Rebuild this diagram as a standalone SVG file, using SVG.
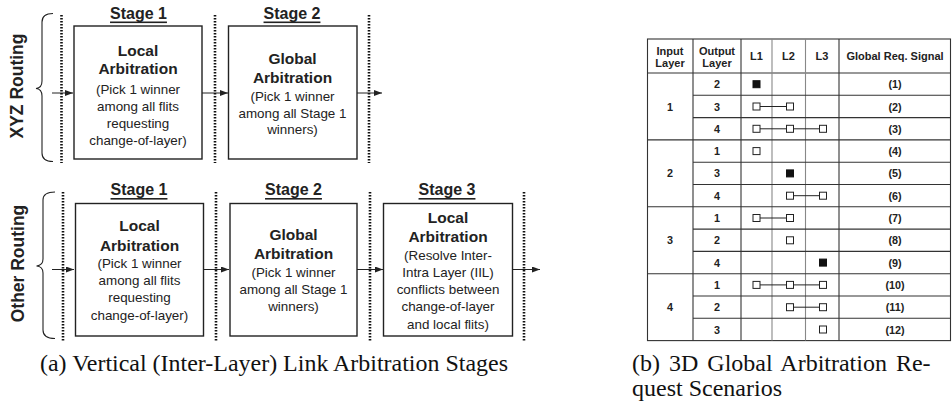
<svg xmlns="http://www.w3.org/2000/svg" width="952" height="406" viewBox="0 0 952 406">
<style>
.box{fill:#fff;stroke:#222;stroke-width:1.4}
.dot{stroke:#111;stroke-width:2.6;stroke-dasharray:1.6 1.4;fill:none}
.arr{stroke:#222;stroke-width:1;fill:none;marker-end:url(#ah)}
.brace{stroke:#222;stroke-width:1.1;fill:none}
.t{font-family:"Liberation Sans",Arial,sans-serif;text-anchor:middle;dominant-baseline:central;fill:#222}
.st{font-size:16px;font-weight:bold;text-decoration:underline}
.hd{font-size:15.5px;font-weight:bold}
.bd{font-size:13.4px}
.rt{font-size:17.5px;font-weight:bold}
.cap{font-family:"Liberation Serif","Times New Roman",serif;font-size:24px;fill:#111}
.g{stroke:#333;stroke-width:1.1;fill:none}
.gl{stroke:#888;stroke-width:1.1;fill:none}
.th{font-size:11px;font-weight:bold}
.tc{font-size:10.8px;font-weight:bold}
.sq{fill:#fff;stroke:#222;stroke-width:1}
.sf{fill:#111;stroke:#111;stroke-width:1}
.ln{stroke:#222;stroke-width:1}
</style>
<defs>
<marker id="ah" viewBox="0 0 8 6" refX="8" refY="3" markerWidth="8" markerHeight="6" markerUnits="userSpaceOnUse" orient="auto"><path d="M0,0 L8,3 L0,6 z" fill="#222"/></marker>
</defs>

<g id="connectors">
<line class="arr" x1="52" y1="93" x2="73" y2="93"/>
<line class="arr" x1="202" y1="93" x2="228" y2="93"/>
<line class="arr" x1="357" y1="93" x2="382" y2="93"/>
<line class="arr" x1="52" y1="269.5" x2="74" y2="269.5"/>
<line class="arr" x1="203" y1="269.5" x2="229" y2="269.5"/>
<line class="arr" x1="357" y1="269.5" x2="383" y2="269.5"/>
<line class="arr" x1="512" y1="269.5" x2="540" y2="269.5"/>
</g>

<g id="dividers">
<line class="dot" x1="61.5" y1="15" x2="61.5" y2="163"/>
<line class="dot" x1="215" y1="15" x2="215" y2="163"/>
<line class="dot" x1="369" y1="15" x2="369" y2="163"/>
<line class="dot" x1="63" y1="192" x2="63" y2="342"/>
<line class="dot" x1="216" y1="192" x2="216" y2="342"/>
<line class="dot" x1="370" y1="192" x2="370" y2="342"/>
<line class="dot" x1="524" y1="192" x2="524" y2="342"/>
</g>

<g id="xyz-label">
<path class="brace" d="M53,13.5 Q42,13.5 42,22 L42,81 Q42,88 36,88.5 Q42,89 42,96 L42,153 Q42,161.5 53,161.5"/>
<text class="t rt" transform="translate(17,86) rotate(-90)">XYZ Routing</text>
</g>
<g id="other-label">
<path class="brace" d="M55,192 Q43,192 43,200 L43,259 Q43,265.5 36.5,266 Q43,266.5 43,273 L43,330 Q43,338.5 55,338.5"/>
<text class="t rt" transform="translate(18,263.5) rotate(-90)">Other Routing</text>
</g>

<g id="xyz-stage1">
<text class="t st" x="138.5" y="13">Stage 1</text>
<rect class="box" x="74" y="26" width="128" height="133"/>
<text class="t hd" x="138" y="50">Local</text>
<text class="t hd" x="138" y="68.5">Arbitration</text>
<text class="t bd" x="138" y="89.5">(Pick 1 winner</text>
<text class="t bd" x="138" y="106.5">among all flits</text>
<text class="t bd" x="138" y="123">requesting</text>
<text class="t bd" x="138" y="140">change-of-layer)</text>
</g>
<g id="xyz-stage2">
<text class="t st" x="292" y="13">Stage 2</text>
<rect class="box" x="228.5" y="26" width="128.5" height="133"/>
<text class="t hd" x="292.5" y="58.5">Global</text>
<text class="t hd" x="292.5" y="77">Arbitration</text>
<text class="t bd" x="292.5" y="96.5">(Pick 1 winner</text>
<text class="t bd" x="292.5" y="113">among all Stage 1</text>
<text class="t bd" x="292.5" y="129.5">winners)</text>
</g>

<g id="other-stage1">
<text class="t st" x="139" y="189.5">Stage 1</text>
<rect class="box" x="75.5" y="203.5" width="128" height="132.5"/>
<text class="t hd" x="139.5" y="225">Local</text>
<text class="t hd" x="139.5" y="245">Arbitration</text>
<text class="t bd" x="139.5" y="263.5">(Pick 1 winner</text>
<text class="t bd" x="139.5" y="280.5">among all flits</text>
<text class="t bd" x="139.5" y="297.5">requesting</text>
<text class="t bd" x="139.5" y="315">change-of-layer)</text>
</g>
<g id="other-stage2">
<text class="t st" x="293.5" y="189.5">Stage 2</text>
<rect class="box" x="230" y="203.5" width="127" height="132.5"/>
<text class="t hd" x="293.5" y="234">Global</text>
<text class="t hd" x="293.5" y="253.5">Arbitration</text>
<text class="t bd" x="293.5" y="272">(Pick 1 winner</text>
<text class="t bd" x="293.5" y="289">among all Stage 1</text>
<text class="t bd" x="293.5" y="306.5">winners)</text>
</g>
<g id="other-stage3">
<text class="t st" x="447" y="189.5">Stage 3</text>
<rect class="box" x="383.5" y="203.5" width="129" height="132.5"/>
<text class="t hd" x="448" y="217.5">Local</text>
<text class="t hd" x="448" y="236">Arbitration</text>
<text class="t bd" x="448" y="255">(Resolve Inter-</text>
<text class="t bd" x="448" y="272">Intra Layer (IIL)</text>
<text class="t bd" x="448" y="289">conflicts between</text>
<text class="t bd" x="448" y="306.5">change-of-layer</text>
<text class="t bd" x="448" y="324">and local flits)</text>
</g>

<g id="table">
<rect class="g" x="647.5" y="39" width="303" height="301.6"/>
<line class="g" x1="647.5" y1="73" x2="950.5" y2="73"/>
<line class="g" x1="693" y1="39" x2="693" y2="340.6"/>
<line class="g" x1="741" y1="39" x2="741" y2="340.6"/>
<line class="gl" x1="772" y1="39" x2="772" y2="340.6"/>
<line class="gl" x1="805.5" y1="39" x2="805.5" y2="340.6"/>
<line class="g" x1="839" y1="39" x2="839" y2="340.6"/>
<g class="g">
<line x1="693" y1="95.3" x2="950.5" y2="95.3"/>
<line x1="693" y1="117.6" x2="950.5" y2="117.6"/>
<line x1="647.5" y1="139.9" x2="950.5" y2="139.9"/>
<line x1="693" y1="162.2" x2="950.5" y2="162.2"/>
<line x1="693" y1="184.5" x2="950.5" y2="184.5"/>
<line x1="647.5" y1="206.8" x2="950.5" y2="206.8"/>
<line x1="693" y1="229.1" x2="950.5" y2="229.1"/>
<line x1="693" y1="251.4" x2="950.5" y2="251.4"/>
<line x1="647.5" y1="273.7" x2="950.5" y2="273.7"/>
<line x1="693" y1="296" x2="950.5" y2="296"/>
<line x1="693" y1="318.3" x2="950.5" y2="318.3"/>
</g>
<text class="t th" x="670" y="51">Input</text>
<text class="t th" x="670" y="63">Layer</text>
<text class="t th" x="717" y="51">Output</text>
<text class="t th" x="717" y="63">Layer</text>
<text class="t th" x="756.5" y="56">L1</text>
<text class="t th" x="788.5" y="56">L2</text>
<text class="t th" x="822" y="56">L3</text>
<text class="t th" x="895" y="56">Global Req. Signal</text>

<text class="t tc" x="670" y="106.5">1</text>
<text class="t tc" x="670" y="173.4">2</text>
<text class="t tc" x="670" y="240.3">3</text>
<text class="t tc" x="670" y="307.2">4</text>

<text class="t tc" x="717" y="84.2">2</text>
<text class="t tc" x="717" y="106.5">3</text>
<text class="t tc" x="717" y="128.8">4</text>
<text class="t tc" x="717" y="151.1">1</text>
<text class="t tc" x="717" y="173.4">3</text>
<text class="t tc" x="717" y="195.7">4</text>
<text class="t tc" x="717" y="218">1</text>
<text class="t tc" x="717" y="240.3">2</text>
<text class="t tc" x="717" y="262.6">4</text>
<text class="t tc" x="717" y="284.9">1</text>
<text class="t tc" x="717" y="307.2">2</text>
<text class="t tc" x="717" y="329.5">3</text>

<text class="t tc" x="895" y="84.2">(1)</text>
<text class="t tc" x="895" y="106.5">(2)</text>
<text class="t tc" x="895" y="128.8">(3)</text>
<text class="t tc" x="895" y="151.1">(4)</text>
<text class="t tc" x="895" y="173.4">(5)</text>
<text class="t tc" x="895" y="195.7">(6)</text>
<text class="t tc" x="895" y="218">(7)</text>
<text class="t tc" x="895" y="240.3">(8)</text>
<text class="t tc" x="895" y="262.6">(9)</text>
<text class="t tc" x="895" y="284.9">(10)</text>
<text class="t tc" x="895" y="307.2">(11)</text>
<text class="t tc" x="895" y="329.5">(12)</text>

<g class="ln">
<line x1="760" y1="106.5" x2="786.5" y2="106.5"/>
<line x1="760" y1="128.8" x2="819.5" y2="128.8"/>
<line x1="793.5" y1="195.7" x2="819.5" y2="195.7"/>
<line x1="760" y1="218" x2="786.5" y2="218"/>
<line x1="760" y1="284.9" x2="819.5" y2="284.9"/>
<line x1="793.5" y1="307.2" x2="819.5" y2="307.2"/>
</g>
<rect class="sf" x="753" y="80.7" width="7" height="7"/>
<rect class="sq" x="753" y="103" width="7" height="7"/>
<rect class="sq" x="786.5" y="103" width="7" height="7"/>
<rect class="sq" x="753" y="125.3" width="7" height="7"/>
<rect class="sq" x="786.5" y="125.3" width="7" height="7"/>
<rect class="sq" x="819.5" y="125.3" width="7" height="7"/>
<rect class="sq" x="753" y="147.6" width="7" height="7"/>
<rect class="sf" x="786.5" y="169.9" width="7" height="7"/>
<rect class="sq" x="786.5" y="192.2" width="7" height="7"/>
<rect class="sq" x="819.5" y="192.2" width="7" height="7"/>
<rect class="sq" x="753" y="214.5" width="7" height="7"/>
<rect class="sq" x="786.5" y="214.5" width="7" height="7"/>
<rect class="sq" x="786.5" y="236.8" width="7" height="7"/>
<rect class="sf" x="819.5" y="259.1" width="7" height="7"/>
<rect class="sq" x="753" y="281.4" width="7" height="7"/>
<rect class="sq" x="786.5" y="281.4" width="7" height="7"/>
<rect class="sq" x="819.5" y="281.4" width="7" height="7"/>
<rect class="sq" x="786.5" y="303.7" width="7" height="7"/>
<rect class="sq" x="819.5" y="303.7" width="7" height="7"/>
<rect class="sq" x="819.5" y="326" width="7" height="7"/>
</g>

<g id="captions">
<text class="cap" x="40" y="371" textLength="468" lengthAdjust="spacingAndGlyphs">(a) Vertical (Inter-Layer) Link Arbitration Stages</text>
<text class="cap" x="632" y="371" word-spacing="3">(b) 3D Global Arbitration Re-</text>
<text class="cap" x="632" y="396">quest Scenarios</text>
</g>
</svg>
